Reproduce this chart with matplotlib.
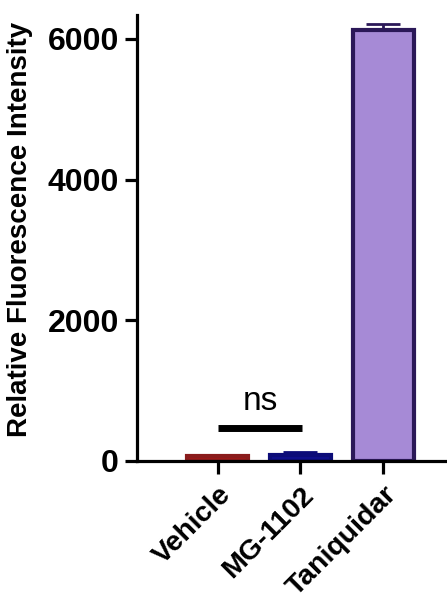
import matplotlib
matplotlib.use("Agg")
import matplotlib.pyplot as plt
import matplotlib.transforms as mtransforms
import numpy as np

# group means and SEM
groups = ["Vehicle", "MG-1102", "Taniquidar"]
means = [70, 90, 6120]
errs = [15, 35, 90]
fills = ["#a01818", "#10108c", "#a68ad6"]
edges = ["#8a1c1c", "#0c0c78", "#2b1858"]

plt.rcParams["font.family"] = ["Liberation Sans", "DejaVu Sans"]

fig = plt.figure(figsize=(4.47, 6), dpi=100)
ax = fig.add_axes([0.3065, 0.2317, 0.6915, 0.7433])

x = np.arange(len(groups))
for i in range(len(groups)):
    ax.bar(x[i], means[i], width=0.74, color=fills[i], edgecolor=edges[i],
           linewidth=3, zorder=2)
    ax.errorbar(x[i], means[i], yerr=[[0], [errs[i]]], fmt="none",
                ecolor=edges[i], elinewidth=2, capsize=12, capthick=2, zorder=1)

# ns bracket between vehicle and MG-1102
ax.plot([0.0, 1.02], [470, 470], color="black", lw=5, solid_capstyle="butt")
ax.text(0.51, 620, "ns", ha="center", va="bottom", fontsize=24)

ax.set_xlim(-0.976, 2.76)
ax.set_ylim(0, 6340)
ax.set_yticks([0, 2000, 4000, 6000])
ax.set_xticks(x)
ax.set_xticklabels(groups, rotation=45, ha="right", rotation_mode="anchor",
                   fontsize=20.5, fontweight="bold")
shift = mtransforms.ScaledTranslation(-5 / 72, 0, fig.dpi_scale_trans)
for lab in ax.get_xticklabels():
    lab.set_transform(lab.get_transform() + shift)
for lab in ax.get_yticklabels():
    lab.set_fontsize(23)
    lab.set_fontweight("bold")
ax.set_ylabel("Relative Fluorescence Intensity", fontsize=20, fontweight="bold")
ax.yaxis.set_label_coords(-0.335, 0.52)

for s in ["top", "right"]:
    ax.spines[s].set_visible(False)
for s in ["left", "bottom"]:
    ax.spines[s].set_linewidth(2.3)
ax.tick_params(width=2.3, length=9, pad=4)
ax.tick_params(axis="x", pad=6)

fig.savefig("out.png", dpi=100)
